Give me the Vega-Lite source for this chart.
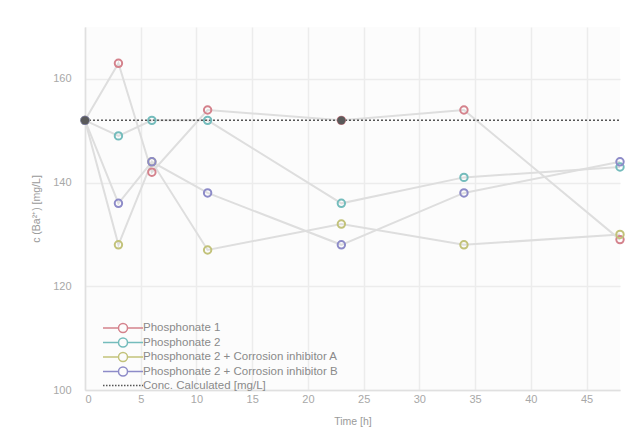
{
  "$schema": "https://vega.github.io/schema/vega-lite/v6.json",
  "autosize": "none",
  "width": 535,
  "height": 363,
  "padding": {"left": 85, "top": 27, "right": 23, "bottom": 41},
  "background": "white",
  "config": {
    "font": "Liberation Sans",
    "view": {"stroke": null, "fill": "#fcfcfc"},
    "axis": {
      "labelColor": "#a8a8a8",
      "labelFontSize": 11,
      "titleColor": "#9a9a9a",
      "titleFontSize": 10.5,
      "titleFontWeight": "normal",
      "gridColor": "#ececec",
      "gridWidth": 1.5,
      "domainColor": "#e0e0e0",
      "domainWidth": 1.5,
      "ticks": false
    },
    "legend": {
      "title": null,
      "orient": "none",
      "legendX": 32,
      "legendY": 295,
      "padding": 0,
      "rowPadding": -1.5,
      "labelFontSize": 11.5,
      "labelColor": "#8a8a8a",
      "labelOffset": 14,
      "symbolSize": 100,
      "symbolStrokeWidth": 1.5,
      "labelLimit": 400
    }
  },
  "datasets": {
    "obs": [
      {"series": "Phosphonate 1", "time": 0, "c": 152},
      {"series": "Phosphonate 1", "time": 3, "c": 163},
      {"series": "Phosphonate 1", "time": 6, "c": 142},
      {"series": "Phosphonate 1", "time": 11, "c": 154},
      {"series": "Phosphonate 1", "time": 23, "c": 152},
      {"series": "Phosphonate 1", "time": 34, "c": 154},
      {"series": "Phosphonate 1", "time": 48, "c": 129},
      {"series": "Phosphonate 2", "time": 0, "c": 152},
      {"series": "Phosphonate 2", "time": 3, "c": 149},
      {"series": "Phosphonate 2", "time": 6, "c": 152},
      {"series": "Phosphonate 2", "time": 11, "c": 152},
      {"series": "Phosphonate 2", "time": 23, "c": 136},
      {"series": "Phosphonate 2", "time": 34, "c": 141},
      {"series": "Phosphonate 2", "time": 48, "c": 143},
      {"series": "Phosphonate 2 + Corrosion inhibitor A", "time": 0, "c": 152},
      {"series": "Phosphonate 2 + Corrosion inhibitor A", "time": 3, "c": 128},
      {"series": "Phosphonate 2 + Corrosion inhibitor A", "time": 6, "c": 144},
      {"series": "Phosphonate 2 + Corrosion inhibitor A", "time": 11, "c": 127},
      {"series": "Phosphonate 2 + Corrosion inhibitor A", "time": 23, "c": 132},
      {"series": "Phosphonate 2 + Corrosion inhibitor A", "time": 34, "c": 128},
      {"series": "Phosphonate 2 + Corrosion inhibitor A", "time": 48, "c": 130},
      {"series": "Phosphonate 2 + Corrosion inhibitor B", "time": 0, "c": 152},
      {"series": "Phosphonate 2 + Corrosion inhibitor B", "time": 3, "c": 136},
      {"series": "Phosphonate 2 + Corrosion inhibitor B", "time": 6, "c": 144},
      {"series": "Phosphonate 2 + Corrosion inhibitor B", "time": 11, "c": 138},
      {"series": "Phosphonate 2 + Corrosion inhibitor B", "time": 23, "c": 128},
      {"series": "Phosphonate 2 + Corrosion inhibitor B", "time": 34, "c": 138},
      {"series": "Phosphonate 2 + Corrosion inhibitor B", "time": 48, "c": 144}
    ],
    "calc": [
      {"series": "Conc. Calculated [mg/L]", "time": 0, "c": 152},
      {"series": "Conc. Calculated [mg/L]", "time": 23, "c": 152},
      {"series": "Conc. Calculated [mg/L]", "time": 48, "c": 152}
    ]
  },
  "layer": [
    {
      "data": {"name": "obs"},
      "mark": {"type": "line", "stroke": "#dedede", "strokeWidth": 2},
      "encoding": {
        "x": {"field": "time", "type": "quantitative", "scale": {"domain": [0, 48], "nice": false},
              "axis": {"values": [0, 5, 10, 15, 20, 25, 30, 35, 40, 45], "title": "Time [h]", "labelPadding": 3, "titlePadding": 12}},
        "y": {"field": "c", "type": "quantitative", "scale": {"domain": [100, 170], "nice": false, "zero": false},
              "axis": {"values": [100, 120, 140, 160], "title": "c (Ba²⁺) [mg/L]", "labelPadding": 14, "titlePadding": 11}},
        "detail": {"field": "series"}
      }
    },
    {
      "data": {"name": "calc"},
      "mark": {"type": "line", "stroke": "#555555", "strokeWidth": 1.5, "strokeDash": [2, 2]},
      "encoding": {
        "x": {"field": "time", "type": "quantitative"},
        "y": {"field": "c", "type": "quantitative"}
      }
    },
    {
      "data": {"name": "obs"},
      "mark": {"type": "point", "filled": false, "strokeWidth": 2, "size": 55, "opacity": 1},
      "encoding": {
        "x": {"field": "time", "type": "quantitative"},
        "y": {"field": "c", "type": "quantitative"},
        "color": {
          "field": "series", "type": "nominal",
          "scale": {
            "domain": ["Phosphonate 1", "Phosphonate 2", "Phosphonate 2 + Corrosion inhibitor A", "Phosphonate 2 + Corrosion inhibitor B", "Conc. Calculated [mg/L]"],
            "range": ["#d4828c", "#74bcbc", "#c2c27a", "#8d8bc8", "#555555"]
          }
        }
      }
    },
    {
      "data": {"name": "obs"},
      "transform": [{"filter": {"field": "time", "lt": -1}}],
      "mark": {"type": "point", "filled": false, "strokeWidth": 1.5, "opacity": 1},
      "encoding": {
        "x": {"field": "time", "type": "quantitative"},
        "y": {"field": "c", "type": "quantitative"},
        "color": {
          "field": "series", "type": "nominal",
          "scale": {
            "domain": ["Phosphonate 1", "Phosphonate 2", "Phosphonate 2 + Corrosion inhibitor A", "Phosphonate 2 + Corrosion inhibitor B", "Conc. Calculated [mg/L]"],
            "range": ["#d4828c", "#74bcbc", "#c2c27a", "#8d8bc8", "#555555"]
          }
        },
        "shape": {
          "field": "series", "type": "nominal",
          "scale": {
            "domain": ["Phosphonate 1", "Phosphonate 2", "Phosphonate 2 + Corrosion inhibitor A", "Phosphonate 2 + Corrosion inhibitor B", "Conc. Calculated [mg/L]"],
            "range": [
              "M-4,0L-0.9,0M0.9,0L4,0M0.9,0A0.9,0.9 0 1 1 -0.9,0A0.9,0.9 0 1 1 0.9,0",
              "M-4,0L-0.9,0M0.9,0L4,0M0.9,0A0.9,0.9 0 1 1 -0.9,0A0.9,0.9 0 1 1 0.9,0",
              "M-4,0L-0.9,0M0.9,0L4,0M0.9,0A0.9,0.9 0 1 1 -0.9,0A0.9,0.9 0 1 1 0.9,0",
              "M-4,0L-0.9,0M0.9,0L4,0M0.9,0A0.9,0.9 0 1 1 -0.9,0A0.9,0.9 0 1 1 0.9,0",
              "M-4,0L-3.7,0M-3.4,0L-3.1,0M-2.8,0L-2.5,0M-2.2,0L-1.9,0M-1.6,0L-1.3,0M-1,0L-0.7,0M-0.4,0L-0.1,0M0.2,0L0.5,0M0.8,0L1.1,0M1.4,0L1.7,0M2,0L2.3,0M2.6,0L2.9,0M3.2,0L3.5,0M3.8,0L4,0"
            ]
          }
        }
      }
    },
    {
      "data": {"name": "calc"},
      "transform": [{"filter": "datum.time < 48"}],
      "mark": {"type": "point", "filled": true, "size": 70, "color": "#5a5a5a", "opacity": 1},
      "encoding": {
        "x": {"field": "time", "type": "quantitative"},
        "y": {"field": "c", "type": "quantitative"}
      }
    }
  ]
}
